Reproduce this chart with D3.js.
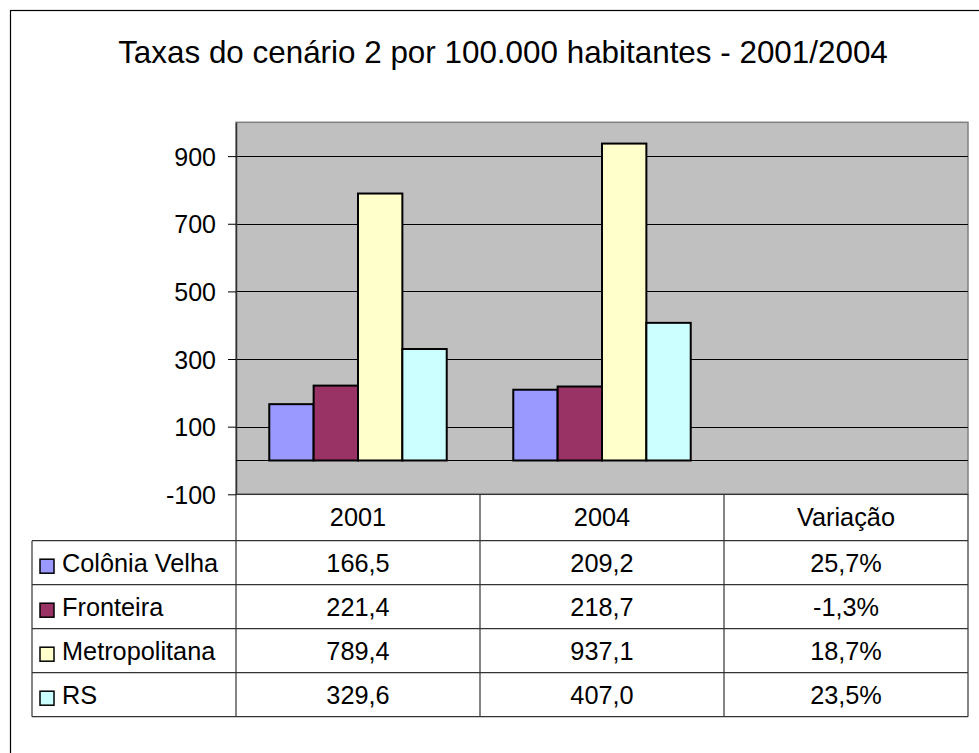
<!DOCTYPE html>
<html>
<head>
<meta charset="utf-8">
<script src="https://cdn.jsdelivr.net/npm/d3@7"></script>
<style>
  html, body { margin: 0; padding: 0; background: #fff; }
  svg { display: block; font-family: "Liberation Sans", Arial, sans-serif; }
</style>
</head>
<body>
<svg id="chart" width="979" height="753"></svg>
<script>
// ---- data ----
const title = "Taxas do cenário 2 por 100.000 habitantes - 2001/2004";
const categories = ["2001", "2004", "Variação"];
const barCategories = ["2001", "2004"];
const series = ["Colônia Velha", "Fronteira", "Metropolitana", "RS"];
const values2001 = [166.5, 221.4, 789.4, 329.6];
const values2004 = [209.2, 218.7, 937.1, 407.0];
const variacao = [25.7, -1.3, 18.7, 23.5];
const yTicks = [-100, 100, 300, 500, 700, 900];
const colors = ["#9999FF", "#993366", "#FFFFCC", "#CCFFFF"];

const fmtNum = d => d.toFixed(1).replace(".", ",");
const fmtPct = d => d.toFixed(1).replace(".", ",") + "%";

// ---- layout ----
const svg = d3.select("#chart");
const plot = { left: 236, right: 968, top: 122.3, bottom: 494.3 };
const table = { left: 32, top: 540.7, bottom: 716.7 };

// outer chart border
svg.append("rect")
  .attr("x", 10.5).attr("y", 10.5).attr("width", 1000).attr("height", 800)
  .attr("fill", "#fff").attr("stroke", "#000").attr("stroke-width", 1.2);

// title
svg.append("text")
  .attr("x", 503).attr("y", 63)
  .attr("text-anchor", "middle")
  .attr("font-size", 31.4)
  .attr("fill", "#000")
  .text(title);

// scales
const x = d3.scaleBand().domain(categories).range([plot.left, plot.right]);
const barW = x.bandwidth() / (series.length + 1.5);
const x1 = d3.scaleBand().domain(series)
  .range([(x.bandwidth() - barW * series.length) / 2, (x.bandwidth() + barW * series.length) / 2]);
const y = d3.scaleLinear().domain([-100, 1000]).range([plot.bottom, plot.top]);

// plot area
svg.append("rect")
  .attr("x", plot.left).attr("y", plot.top)
  .attr("width", plot.right - plot.left).attr("height", plot.bottom - plot.top)
  .attr("fill", "#C0C0C0").attr("stroke", "#808080").attr("stroke-width", 1.5);

// gridlines
svg.append("g")
  .selectAll("line")
  .data(yTicks.filter(t => t > -100))
  .join("line")
  .attr("x1", plot.left).attr("x2", plot.right)
  .attr("y1", d => Math.round(y(d)) + 0.5).attr("y2", d => Math.round(y(d)) + 0.5)
  .attr("stroke", "#000").attr("stroke-width", 1);

// y axis
const yAxis = d3.axisLeft(y).tickValues(yTicks).tickSize(8).tickSizeOuter(0).tickPadding(12)
  .tickFormat(d => String(d));
const gy = svg.append("g").attr("transform", `translate(${plot.left},0)`).call(yAxis);
gy.select(".domain").attr("stroke", "#333").attr("stroke-width", 1.5);
gy.selectAll(".tick line").attr("stroke", "#000");
gy.selectAll(".tick text")
  .attr("font-size", 25).attr("fill", "#000")
  .attr("font-family", "Liberation Sans, Arial, sans-serif")
  .attr("dy", "0.36em");

// zero (category axis) line
svg.append("line")
  .attr("x1", plot.left).attr("x2", plot.right)
  .attr("y1", Math.round(y(0)) + 0.5).attr("y2", Math.round(y(0)) + 0.5)
  .attr("stroke", "#000").attr("stroke-width", 1.2);

// bars
const barData = [];
barCategories.forEach((c, ci) => {
  const vals = ci === 0 ? values2001 : values2004;
  series.forEach((s, si) => barData.push({ cat: c, s, v: vals[si], color: colors[si] }));
});
svg.append("g")
  .selectAll("rect")
  .data(barData)
  .join("rect")
  .attr("x", d => x(d.cat) + x1(d.s))
  .attr("y", d => y(d.v))
  .attr("width", x1.bandwidth())
  .attr("height", d => y(0) - y(d.v))
  .attr("fill", d => d.color)
  .attr("stroke", "#000").attr("stroke-width", 2);

// ---- data table ----
const rows = d3.scaleBand().domain(series).range([table.top, table.bottom]);
const lineColor = "#333";
const tg = svg.append("g");

// horizontal lines
const hLines = [{ y: plot.bottom, x1: plot.left }, { y: table.top, x1: table.left }]
  .concat(series.map(s => ({ y: rows(s) + rows.bandwidth(), x1: table.left })));
tg.selectAll("line.h").data(hLines).join("line").attr("class", "h")
  .attr("x1", d => d.x1).attr("x2", plot.right)
  .attr("y1", d => d.y).attr("y2", d => d.y)
  .attr("stroke", lineColor).attr("stroke-width", 1.2);

// vertical lines
const vLines = [{ x: table.left, y1: table.top }]
  .concat(categories.map(c => ({ x: x(c), y1: plot.bottom })))
  .concat([{ x: plot.right, y1: plot.bottom }]);
tg.selectAll("line.v").data(vLines).join("line").attr("class", "v")
  .attr("x1", d => d.x).attr("x2", d => d.x)
  .attr("y1", d => d.y1).attr("y2", table.bottom)
  .attr("stroke", lineColor).attr("stroke-width", 1.2);

// header
tg.selectAll("text.hdr").data(categories).join("text").attr("class", "hdr")
  .attr("x", d => x(d) + x.bandwidth() / 2)
  .attr("y", (plot.bottom + table.top) / 2)
  .attr("dy", "0.34em")
  .attr("text-anchor", "middle").attr("font-size", 25.3).attr("fill", "#000")
  .text(d => d);

// legend cells
const leg = tg.selectAll("g.leg").data(series).join("g").attr("class", "leg")
  .attr("transform", s => `translate(0,${rows(s) + rows.bandwidth() / 2})`);
leg.append("rect")
  .attr("x", 40).attr("y", -3.5).attr("width", 14).attr("height", 14)
  .attr("fill", (s, i) => colors[i]).attr("stroke", "#000").attr("stroke-width", 1.5);
leg.append("text")
  .attr("x", 62).attr("dy", "0.36em")
  .attr("font-size", 25.3).attr("fill", "#000")
  .text(s => s);

// value cells
const cellData = [];
series.forEach((s, si) => {
  cellData.push({ s, c: categories[0], t: fmtNum(values2001[si]) });
  cellData.push({ s, c: categories[1], t: fmtNum(values2004[si]) });
  cellData.push({ s, c: categories[2], t: fmtPct(variacao[si]) });
});
tg.selectAll("text.cell").data(cellData).join("text").attr("class", "cell")
  .attr("x", d => x(d.c) + x.bandwidth() / 2)
  .attr("y", d => rows(d.s) + rows.bandwidth() / 2)
  .attr("dy", "0.36em")
  .attr("text-anchor", "middle").attr("font-size", 25.3).attr("fill", "#000")
  .text(d => d.t);
</script>
</body>
</html>
